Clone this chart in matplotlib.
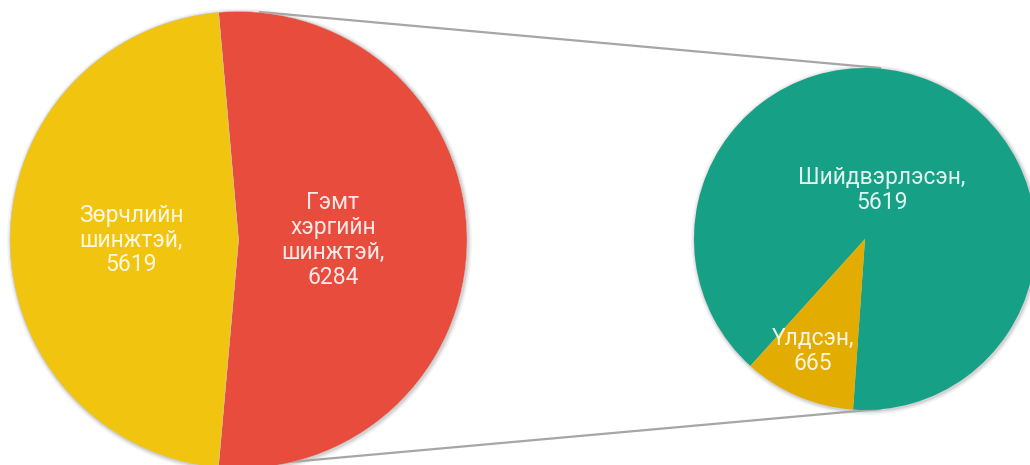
import matplotlib.pyplot as plt
from matplotlib.patches import Circle

# data
main_labels = ['Гэмт\nхэргийн\nшинжтэй', 'Зөрчлийн\nшинжтэй']
main_values = [6284, 5619]
main_colors = ['#E74C3C', '#F1C40F']

sub_labels = ['Шийдвэрлэсэн', 'Үлдсэн']
sub_values = [5619, 665]
sub_colors = ['#16A085', '#E2AC00']

W, H = 1030, 465
fig = plt.figure(figsize=(W / 100, H / 100), dpi=100)
ax = fig.add_axes([0, 0, 1, 1])
ax.set_xlim(0, W)
ax.set_ylim(H, 0)
ax.set_aspect('equal')
ax.axis('off')

c1, r1 = (238.5, 240), 228.5
c2, r2 = (865, 239), 171

# soft shadows
for c, r in [(c1, r1), (c2, r2)]:
    for k, a in [(4, 0.04), (2.5, 0.06), (1.2, 0.08)]:
        ax.add_patch(Circle((c[0] + 1, c[1] + 1), r + k, color='black', alpha=a, lw=0, zorder=0))

# connecting lines
ax.plot([260, 880], [12, 68], color='#A6A6A6', lw=1.6, zorder=1)
ax.plot([268, 880], [464, 409], color='#A6A6A6', lw=1.6, zorder=1)

# y axis inverted -> angles flip, so use counterclock opposite of visual
ax.pie(main_values, colors=main_colors, center=c1, radius=r1,
       startangle=-95, counterclock=True, frame=True,
       wedgeprops=dict(linewidth=0.3, edgecolor='#c8c8c8'))
ax.pie(sub_values, colors=sub_colors, center=c2, radius=r2,
       startangle=94, counterclock=False, frame=True,
       wedgeprops=dict(linewidth=0))
ax.set_xlim(0, W)
ax.set_ylim(H, 0)
ax.axis('off')

txt = dict(color='#FFFFFF', alpha=0.88, fontsize=16.5, family=['Roboto', 'DejaVu Sans'],
           fontweight=350, ha='center', va='center', linespacing=1.1, zorder=5)
ax.text(131, 240, f'{main_labels[1]},\n{main_values[1]}', **txt)
ax.text(333, 240, f'{main_labels[0]},\n{main_values[0]}', **txt)
ax.text(882, 190, f'{sub_labels[0]},\n{sub_values[0]}', **txt)
ax.text(813, 351, f'{sub_labels[1]},\n{sub_values[1]}', **txt)

fig.savefig('out.png', dpi=100)
